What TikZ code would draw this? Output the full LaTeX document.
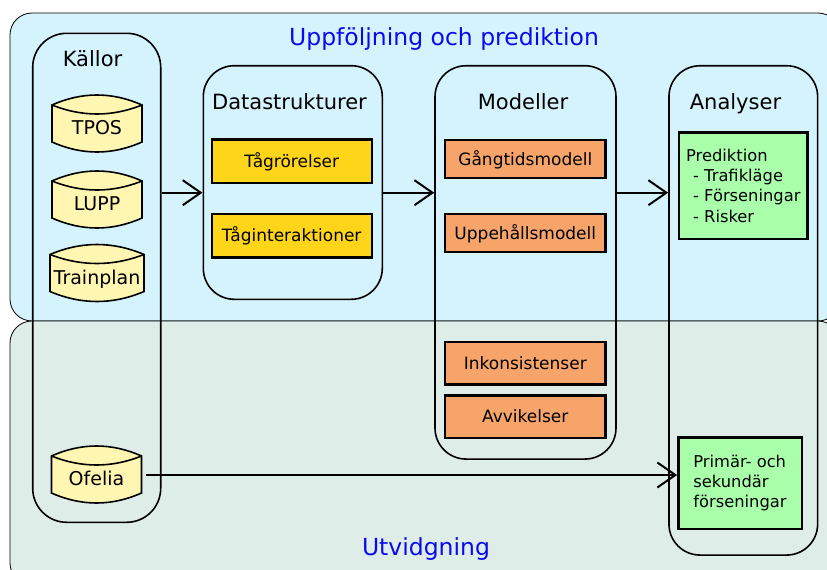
\documentclass[tikz,border=0pt]{standalone}
\usepackage{fontspec}
\setmainfont{DejaVu Sans}
\usetikzlibrary{arrows.meta,calc}

\definecolor{upperbg}{RGB}{213,243,253}
\definecolor{lowerbg}{RGB}{222,237,232}
\definecolor{dbfill}{RGB}{255,246,178}
\definecolor{goldfill}{RGB}{255,213,26}
\definecolor{sandfill}{RGB}{246,164,106}
\definecolor{mintfill}{RGB}{170,255,170}
\definecolor{headblue}{RGB}{10,10,240}

\tikzset{
  region/.style={draw=black, line width=0.8pt, rounded corners=22pt},
  group/.style={draw=black, line width=1.6pt, rounded corners=#1, inner sep=0pt},
  group/.default=30pt,
  heading/.style={anchor=base, text=headblue, font=\fontsize{23.5}{28}\selectfont},
  grouplabel/.style={anchor=base, font=\fontsize{21}{25}\selectfont},
  itembox/.style={draw=black, line width=2.4pt, inner sep=0pt,
    font=\fontsize{17}{20}\selectfont, text height=12.4pt, text depth=0pt},
  resultbox/.style={draw=black, line width=2.4pt, fill=mintfill, inner sep=0pt,
    align=left, font=\fontsize{16.3}{20.2}\selectfont},
  drum/.style={draw=black, line width=1.6pt, fill=dbfill},
  dbtext/.style={inner sep=0pt, minimum width=90pt, minimum height=50pt,
    font=\fontsize{19}{22}\selectfont, text height=13.9pt, text depth=0pt},
  flowarrow/.style={draw=black, line width=2pt,
    -{Straight Barb[length=18pt,width=25pt]}}
}

% database drum: name, x, y (text centre), half width, text
\newcommand\drum[5]{%
  \filldraw[drum] ($(#2,#3)+(-#4pt,23pt)$)
     .. controls ($(#2,#3)+(-#4pt/3,36.33pt)$) and ($(#2,#3)+(#4pt/3,36.33pt)$) .. ($(#2,#3)+(#4pt,23pt)$)
     -- ($(#2,#3)+(#4pt,-14pt)$)
     .. controls ($(#2,#3)+(#4pt/3,-27.33pt)$) and ($(#2,#3)+(-#4pt/3,-27.33pt)$) .. ($(#2,#3)+(-#4pt,-14pt)$)
     -- cycle;
  \draw[drum, fill=none] ($(#2,#3)+(-#4pt,23pt)$)
     .. controls ($(#2,#3)+(-#4pt/3,11pt)$) and ($(#2,#3)+(#4pt/3,11pt)$) .. ($(#2,#3)+(#4pt,23pt)$);
  \node[dbtext] (#1) at (#2,#3) {#5};%
}

\begin{document}
\begin{tikzpicture}[x=1pt, y=-1pt]
\useasboundingbox (0,0) rectangle (827,570);
\clip (0,0) rectangle (827,570);

% background areas
\draw[region, fill=upperbg] (10,13) rectangle (840,321);
\draw[region, fill=lowerbg] (10,321) rectangle (840,585);

\node[heading] (uppf) at (444,45) {Uppföljning och prediktion};
\node[heading] (utvid) at (426,555) {Utvidgning};

% column frames
\node[group=34pt, minimum width=128pt, minimum height=489pt] (kallor) at (96.7,277.8) {};
\node[group=31pt, minimum width=179pt, minimum height=233.6pt] (dstr) at (292.8,182.5) {};
\node[group=31pt, minimum width=181pt, minimum height=393.3pt] (modell) at (525.5,262.4) {};
\node[group=31pt, minimum width=148.7pt, minimum height=489.3pt] (analys) at (743.3,310.4) {};

\node[grouplabel] (kallorlbl) at (92.5,66) {Källor};
\node[grouplabel] (dstrlbl) at (289.5,109) {Datastrukturer};
\node[grouplabel] (modelllbl) at (523,109) {Modeller};
\node[grouplabel] (analyslbl) at (735.5,109) {Analyser};

% sources
\drum{tpos}{97}{128}{45}{TPOS}
\drum{lupp}{97}{204}{45}{LUPP}
\drum{trainplan}{97}{277.5}{47}{Trainplan}
\drum{ofelia}{96.5}{479}{45}{Ofelia}

% data structures
\node[itembox, fill=goldfill, minimum width=160pt, minimum height=43.4pt] (tagr) at (291.7,161) {Tågrörelser};
\node[itembox, fill=goldfill, minimum width=160pt, minimum height=43.3pt] (tagi) at (291.7,235.7) {Tåginteraktioner};

% models
\node[itembox, fill=sandfill, minimum width=160.7pt, minimum height=37.7pt] (gang) at (525.3,159) {Gångtidsmodell};
\node[itembox, fill=sandfill, minimum width=160.7pt, minimum height=38pt] (uppe) at (525.3,233) {Uppehållsmodell};
\node[itembox, fill=sandfill, minimum width=160.7pt, minimum height=42.6pt] (inko) at (525.3,363) {Inkonsistenser};
\node[itembox, fill=sandfill, minimum width=160.7pt, minimum height=42.4pt] (avvi) at (525.3,416.5) {Avvikelser};

% analyses
\node[resultbox, minimum width=128.7pt, minimum height=106.7pt] (pred) at (743.3,185.7)
  {Prediktion\\\hspace*{7pt}- Trafikläge\\\hspace*{7pt}- Förseningar\\\hspace*{7pt}- Risker};
\node[resultbox, minimum width=123.4pt, minimum height=91.7pt] (prim) at (740,483.2)
  {Primär- och\\sekundär\\förseningar};

% flow
\coordinate (flow) at (0,192.7);
\coordinate (lowflow) at (0,475);
\draw[flowarrow] (kallor.east |- flow) -- (dstr.west |- flow);
\draw[flowarrow] (dstr.east |- flow) -- (modell.west |- flow);
\draw[flowarrow] (modell.east |- flow) -- (analys.west |- flow);
\draw[flowarrow, shorten <=4pt] (ofelia.east |- lowflow) -- (prim.west |- lowflow);
\end{tikzpicture}
\end{document}
